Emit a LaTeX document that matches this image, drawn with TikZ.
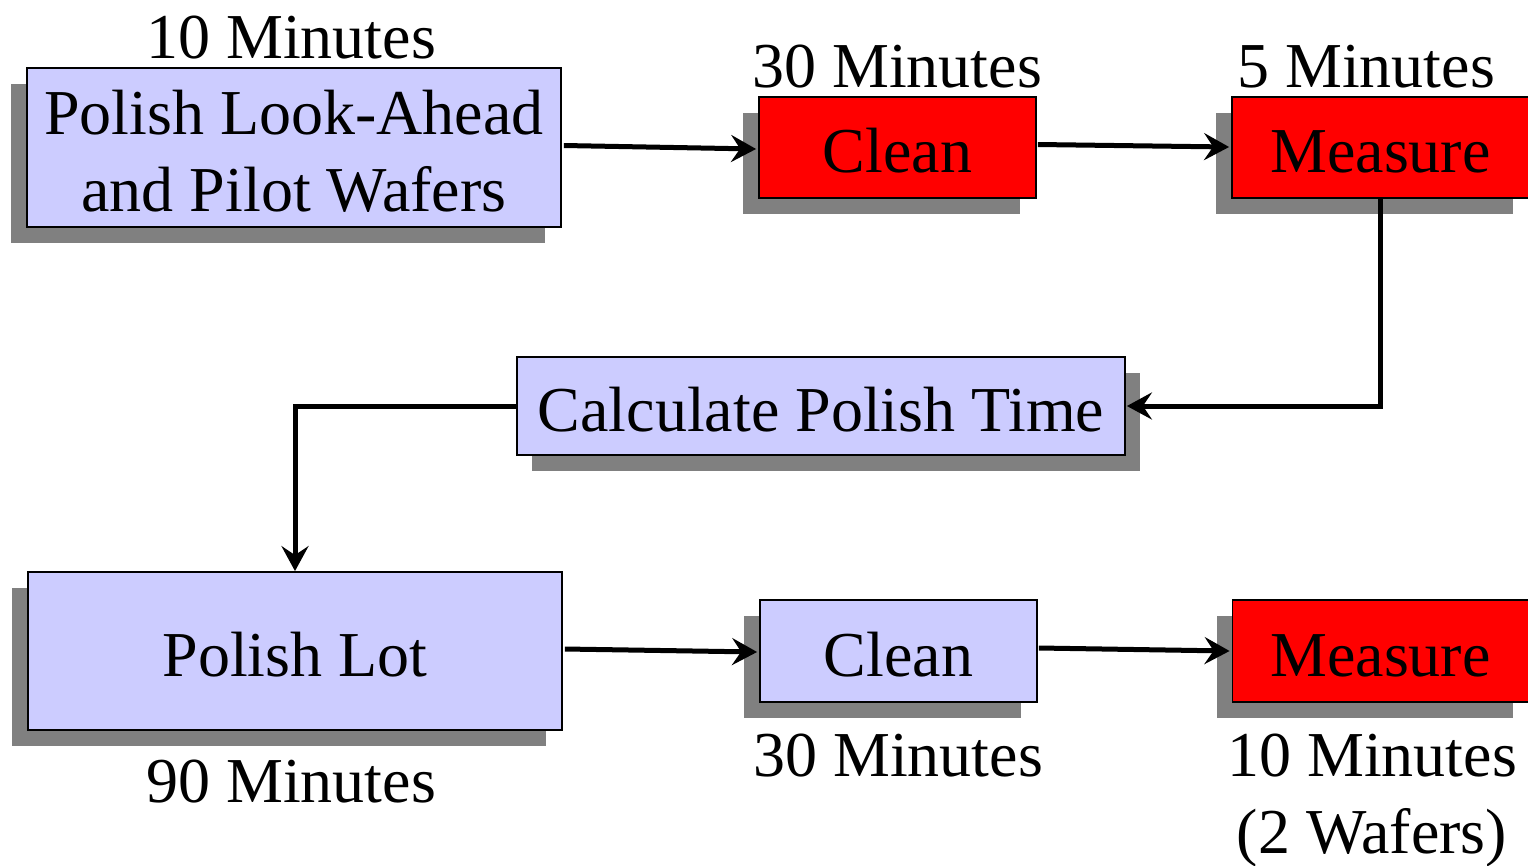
\documentclass[tikz,border=0pt]{standalone}
\usepackage{fontspec}
\setmainfont{Liberation Serif}
\usetikzlibrary{arrows.meta,shadows,calc}
\definecolor{lav}{RGB}{204,204,255}
\definecolor{shade}{RGB}{128,128,128}
\tikzset{
  box/.style={draw=black, line width=1.8pt, inner sep=0pt, align=center,
    font=\fontsize{64}{77}\selectfont},
  oneline/.style={text height=50pt, text depth=0pt},
  lavbox/.style={box, fill=lav},
  redbox/.style={box, fill=red},
  shadowL/.style={drop shadow={shadow xshift=-16pt, shadow yshift=-16pt, opacity=1, fill=shade}},
  shadowR/.style={drop shadow={shadow xshift=15pt, shadow yshift=-16pt, opacity=1, fill=shade}},
  lbl/.style={inner sep=0pt, align=center, font=\fontsize{64}{77}\selectfont},
  arr/.style={line width=5pt, -{Stealth[length=25pt,width=27pt,inset=9pt]}}
}
\begin{document}
\begin{tikzpicture}[x=1pt,y=-1pt]
\useasboundingbox (0,0) rectangle (1528,865);
% process steps
\node[lavbox, shadowL, minimum width=534pt, minimum height=159pt] (A) at (294,147.5)
  {\rule{0pt}{52pt}Polish Look-Ahead\\and Pilot Wafers};
\node[redbox, oneline, shadowL, minimum width=277pt, minimum height=101pt] (B) at (897.5,147.5) {Clean};
\node[redbox, oneline, shadowL, minimum width=297pt, minimum height=101pt] (C) at (1380.5,147.5) {Measure};
\node[lavbox, oneline, shadowR, minimum width=608pt, minimum height=98pt] (D) at (821,406) {Calculate Polish Time};
\node[lavbox, oneline, shadowL, minimum width=534pt, minimum height=158pt] (E) at (295,651) {Polish Lot};
\node[lavbox, oneline, shadowL, minimum width=277pt, minimum height=102pt] (F) at (898.5,651) {Clean};
\node[redbox, oneline, shadowL, minimum width=296pt, minimum height=102pt] (G) at (1380.5,651) {Measure};
% durations
\node[lbl] (tA) at (291,38) {10 Minutes};
\node[lbl] (tB) at (897,67) {30 Minutes};
\node[lbl] (tC) at (1366,67) {5 Minutes};
\node[lbl] (tE) at (291,782) {90 Minutes};
\node[lbl] (tF) at (898,756) {30 Minutes};
\node[lbl] (tG) at (1372,801) {10 Minutes\\(2 Wafers)};
% flow
\draw[arr] ([shift={(2,-2)}]A.east) -- ([shift={(-2,1.5)}]B.west);
\draw[arr] ([shift={(1,-3)}]B.east) -- ([shift={(-2,-0.5)}]C.west);
\draw[arr] (C.south) |- ([xshift=1pt]D.east);
\draw[arr] (D.west) -| (E.north);
\draw[arr] ([shift={(2,-2)}]E.east) -- ([shift={(-2,1)}]F.west);
\draw[arr] ([shift={(1,-3)}]F.east) -- ([shift={(-2,0)}]G.west);
\end{tikzpicture}
\end{document}
